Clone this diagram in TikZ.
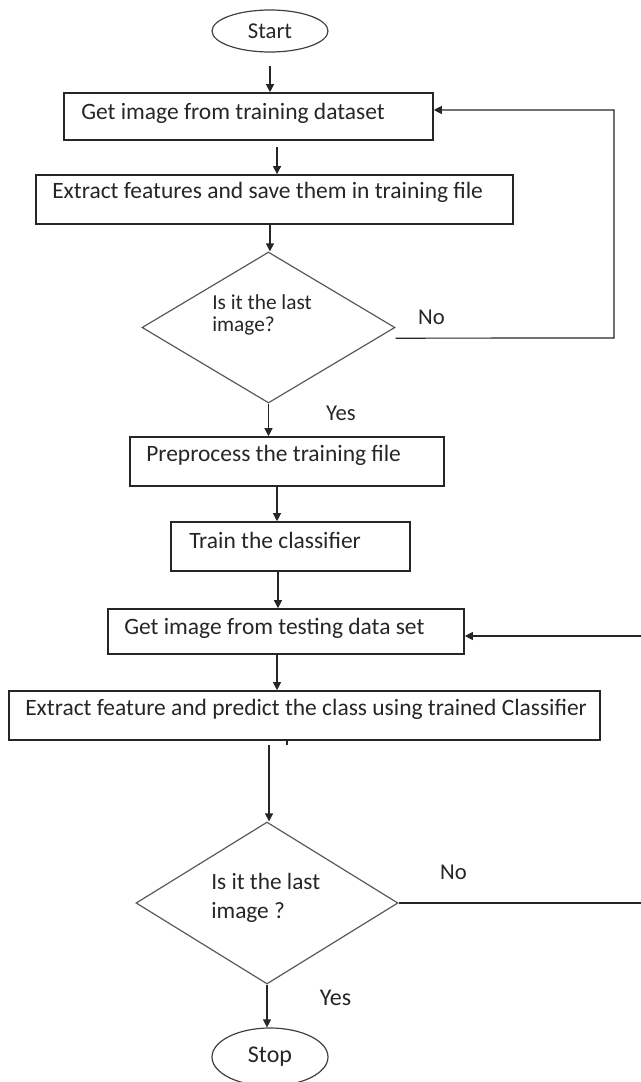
\documentclass[tikz,border=0pt]{standalone}
\usepackage{fontspec}
\setmainfont{Carlito}
\usetikzlibrary{shapes.geometric,arrows.meta}

\newdimen\pxu
\pxu=0.75pt

\begin{document}
\begin{tikzpicture}[x=0.75pt, y=-0.75pt,
    procbox/.style={draw=black!85, line width=1.2pt, inner sep=0pt},
    decision/.style={diamond, draw=black!65, line width=0.9pt, inner sep=0pt},
    terminal/.style={ellipse, draw=black!75, line width=0.9pt, inner sep=0pt},
    boxtext/.style={anchor=west, inner sep=0pt, text=black!85, font=\fontsize{17.6}{20}\selectfont},
    qtext/.style={anchor=west, inner sep=0pt, align=left, text=black!85},
    tag/.style={inner sep=0pt, text=black!85, font=\fontsize{17}{20}\selectfont},
    flow/.style={draw=black!85, line width=0.9pt, -{Triangle[length=6pt,width=6pt]}}]
    \useasboundingbox (0,0) rectangle (641,1082);

    % terminals
    \node[terminal, minimum width=116*\pxu, minimum height=42*\pxu,
          font=\fontsize{17}{20}\selectfont, text=black!85] (start) at (270,31) {Start};
    \node[terminal, minimum width=116*\pxu, minimum height=58*\pxu,
          font=\fontsize{18}{20}\selectfont, text=black!85] (stop) at (270,1057) {Stop};

    % training part
    \node[procbox, minimum width=369*\pxu, minimum height=47*\pxu] (getTrain) at (248.5,116.5) {};
    \node[boxtext] (getTrainTxt) at (81,113) {Get image from training dataset};
    \node[procbox, minimum width=477*\pxu, minimum height=49*\pxu] (extractTrain) at (274.5,199.5) {};
    \node[boxtext] (extractTrainTxt) at (52,192) {Extract features and save them in training file};
    \node[decision, minimum width=253*\pxu, minimum height=151*\pxu] (check1) at (268.5,327.5) {};
    \node[qtext, font=\fontsize{16}{16.5}\selectfont] (check1Txt) at (212,315) {Is it the last\\image?};
    \node[procbox, minimum width=314*\pxu, minimum height=49*\pxu] (preprocess) at (287,461.5) {};
    \node[boxtext] (preprocessTxt) at (146,455) {Preprocess the training file};
    \node[procbox, minimum width=239*\pxu, minimum height=49*\pxu] (trainClf) at (290.5,546.5) {};
    \node[boxtext] (trainClfTxt) at (189,540) {Train the classifier};

    % testing part
    \node[procbox, minimum width=356*\pxu, minimum height=45*\pxu] (getTest) at (286,631.5) {};
    \node[boxtext] (getTestTxt) at (124,628) {Get image from testing data set};
    \node[procbox, minimum width=591*\pxu, minimum height=49*\pxu] (predict) at (304.5,715.5) {};
    \node[boxtext] (predictTxt) at (25,709) {Extract feature and predict the class using trained Classifier};
    \node[decision, minimum width=262*\pxu, minimum height=162*\pxu] (check2) at (267,903) {};
    \node[qtext, font=\fontsize{17.5}{21.75}\selectfont] (check2Txt) at (211,897.5) {Is it the last\\image ?};

    % branch labels
    \node[tag] (noA) at (431.5,317) {No};
    \node[tag] (yesA) at (341,413) {Yes};
    \node[tag] (noB) at (453.5,872) {No};
    \node[tag, font=\fontsize{18}{20}\selectfont] (yesB) at (335.5,998) {Yes};

    \coordinate (loopA) at (614,338);
    \coordinate (loopB) at (614,110);
    \coordinate (loopC) at (643,903);
    \coordinate (loopD) at (643,636);

    % arrows
    \draw[flow, shorten <=10pt] (start.south) -- (start.south |- getTrain.north);
    \draw[flow, shorten <=5pt] ([xshift=21.4pt]getTrain.south) -- ([xshift=21.4pt]getTrain.south |- extractTrain.north);
    \draw[flow] ([xshift=-3.4pt]extractTrain.south) -- ([xshift=-3.4pt]extractTrain.south |- check1.north);
    \draw[flow] (check1.south) -- (check1.south |- preprocess.north);
    \draw[flow] ([yshift=-8pt]check1.east) -- (loopA) -- (loopB) -- (loopB -| getTrain.east);
    \draw[flow] ([xshift=-7.5pt]preprocess.south) -- ([xshift=-7.5pt]preprocess.south |- trainClf.north);
    \draw[flow] ([xshift=-9.4pt]trainClf.south) -- ([xshift=-9.4pt]trainClf.south |- getTest.north);
    \draw[flow] ([xshift=-6.75pt]getTest.south) -- ([xshift=-6.75pt]getTest.south |- predict.north);
    \draw[draw=black!85, line width=0.9pt] ([xshift=-13.1pt]predict.south) -- ++(0,4);
    \draw[flow, shorten <=3pt] ([xshift=-26.6pt]predict.south) -- ([xshift=-26.6pt]predict.south |- check2.north);
    \draw[flow] (check2.south) -- (check2.south |- stop.north);
    \draw[flow] (check2.east) -- (loopC) -- (loopD) -- (loopD -| getTest.east);
\end{tikzpicture}
\end{document}
